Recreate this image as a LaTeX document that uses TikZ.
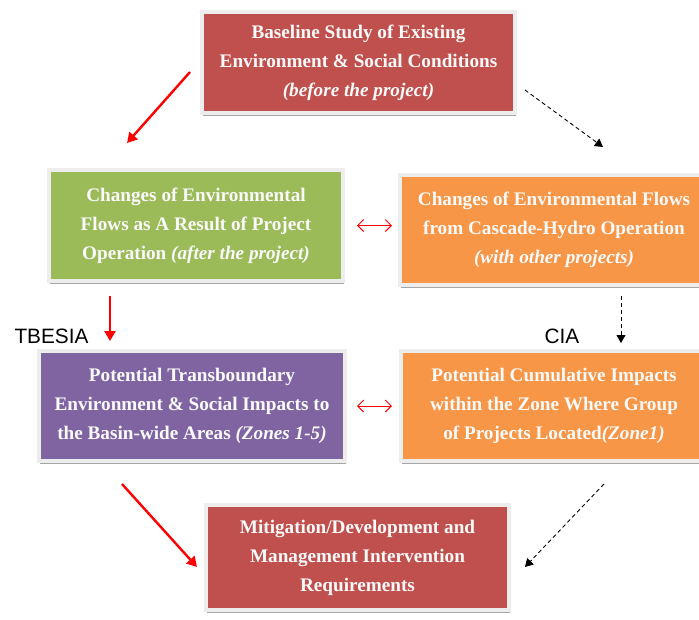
\documentclass[tikz,border=0pt]{standalone}
\usepackage{fontspec}
\setmainfont{Liberation Serif}
\newfontfamily\labelfont{Liberation Sans}
\usetikzlibrary{positioning, arrows.meta, shadows}

\definecolor{boxred}{HTML}{C0504D}
\definecolor{boxgreen}{HTML}{9BBB59}
\definecolor{boxorange}{HTML}{F79646}
\definecolor{boxpurple}{HTML}{8064A2}
\definecolor{framegray}{HTML}{EDEDED}

\begin{document}
\begin{tikzpicture}[x=1pt, y=-1pt, node distance=62pt and 53pt]
		\useasboundingbox (0,0) rectangle (699,619);
		% Styles
		\tikzstyle{block} = [rectangle, draw=framegray, line width=4pt, text=white!96!gray,
		font=\bfseries\fontsize{19.2}{29}\selectfont, align=center,
		drop shadow={shadow xshift=1pt, shadow yshift=-2.5pt, fill=black!35, opacity=1}]
		\tikzstyle{redline} = [draw, red, line width=2.4pt, -{Triangle[length=10pt, width=11pt]}]
		\tikzstyle{dashline} = [draw, black, line width=0.9pt, dash pattern=on 4pt off 3pt, -{Triangle[length=8pt, width=9pt]}]
		\tikzstyle{twoway} = [draw, red, line width=1pt, {Straight Barb[length=6pt, width=12pt]}-{Straight Barb[length=6pt, width=12pt]}]
		\tikzstyle{tag} = [font=\labelfont\fontsize{20.8}{22}\selectfont, text=black, inner sep=0pt]
		
		% Nodes
		\node [block, fill=boxred, minimum width=313pt, minimum height=101pt] (baseline) at (358.5,62.5)
		{Baseline Study of Existing\\ Environment \& Social Conditions\\ \textit{(before the project)}};
		\node [block, fill=boxgreen, minimum width=294pt, minimum height=111pt] (projflow) at (196,225.5)
		{Changes of Environmental\\ Flows as A Result of Project\\ Operation \textit{(after the project)}};
		\node [block, fill=boxorange, minimum width=308pt, minimum height=110pt] (cascade) at (554,230)
		{Changes of Environmental Flows\\ from Cascade-Hydro Operation\\ \textit{(with other projects)}};
		\node [block, fill=boxpurple, minimum width=306pt, minimum height=110pt, below=66pt of projflow.south, anchor=north, xshift=-4pt] (transb)
		{Potential Transboundary\\ Environment \& Social Impacts to\\ the Basin-wide Areas \textit{(Zones 1-5)}};
		\node [block, fill=boxorange, minimum width=306pt, minimum height=110pt, below=of cascade.south, anchor=north] (cumul)
		{Potential Cumulative Impacts\\ within the Zone Where Group\\ of Projects Located\textit{(Zone1)}};
		\node [block, fill=boxred, minimum width=303pt, minimum height=105pt] (mitig) at (357.5,557.5)
		{Mitigation/Development and\\ Management Intervention\\ Requirements};
		
		\node [tag] (tbesia) at (51.5,336) {TBESIA};
		\node [tag] (cia) at (562,336) {CIA};
		
		% Connections
		\coordinate (r1s) at (190,72);  \coordinate (r1e) at (127,143);
		\coordinate (d1s) at (525,90);  \coordinate (d1e) at (603,147);
		\coordinate (r2s) at (110,296); \coordinate (r2e) at (110,341);
		\coordinate (d2s) at (621,296); \coordinate (d2e) at (621,343);
		\coordinate (r3s) at (122,484); \coordinate (r3e) at (197,567);
		\coordinate (d3s) at (604,484); \coordinate (d3e) at (525,567);
		\path [redline] (r1s) -- (r1e);
		\path [dashline] (d1s) -- (d1e);
		\path [redline] (r2s) -- (r2e);
		\path [dashline] (d2s) -- (d2e);
		\path [redline] (r3s) -- (r3e);
		\path [dashline] (d3s) -- (d3e);
		\path [twoway] ([xshift=12pt]projflow.east) -- ([xshift=-6pt]cascade.west |- projflow.east);
		\path [twoway] ([xshift=10pt]transb.east) -- ([xshift=-7pt]cumul.west |- transb.east);
	\end{tikzpicture}
\end{document}
